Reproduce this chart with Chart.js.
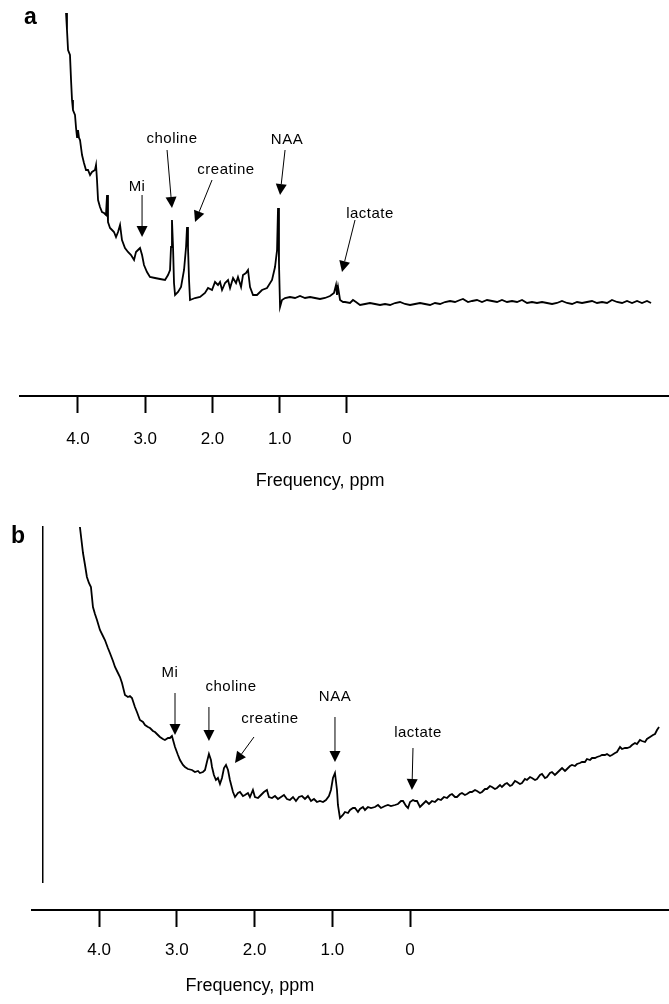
<!DOCTYPE html>
<html>
<head>
<meta charset="utf-8">
<script src="https://cdn.jsdelivr.net/npm/chart.js@4.4.1/dist/chart.umd.min.js"></script>
<style>
  body { margin: 0; background: #fff; }
  .panel { position: absolute; left: 0; width: 669px; }
  .letter { position: absolute; font: bold 23px "Liberation Sans", Arial, sans-serif; line-height: 23px; color: #000; }
</style>
</head>
<body>
<div class="panel" style="top:0;height:496px"><canvas id="chartA"></canvas></div>
<div class="panel" style="top:496px;height:508px"><canvas id="chartB"></canvas></div>
<div class="letter" style="left:24px;top:5px">a</div>
<div class="letter" style="left:11px;top:524px">b</div>
<script>
// axis ticks (ppm) shown under both spectra
const tickValues = [4, 3, 2, 1, 0];
const axisTitle = 'Frequency, ppm';

// spectrum a: chemical shift (ppm) and signal (arbitrary units)
const ppmA = [4.409, 4.398, 4.386, 4.364, 4.352, 4.341, 4.330, 4.307, 4.295, 4.284,
  4.273, 4.261, 4.250, 4.227, 4.205, 4.182, 4.159, 4.136, 4.114, 4.080,
  4.068, 4.057, 4.045, 4.023, 4.000, 3.977, 3.955, 3.943, 3.932, 3.909,
  3.886, 3.864, 3.841, 3.818, 3.795, 3.773, 3.739, 3.705, 3.670, 3.636,
  3.614, 3.591, 3.568, 3.545, 3.523, 3.489, 3.455, 3.398, 3.341, 3.284,
  3.250, 3.227, 3.216, 3.205, 3.193, 3.182, 3.170, 3.136, 3.102, 3.068,
  3.045, 3.034, 3.023, 3.011, 3.000, 2.943, 2.886, 2.830, 2.795, 2.750,
  2.716, 2.682, 2.659, 2.636, 2.602, 2.568, 2.545, 2.511, 2.477, 2.455,
  2.420, 2.398, 2.364, 2.341, 2.318, 2.284, 2.239, 2.182, 2.125, 2.068,
  2.034, 2.011, 2.000, 1.989, 1.977, 1.955, 1.920, 1.864, 1.807, 1.750,
  1.693, 1.636, 1.580, 1.523, 1.466, 1.409, 1.364, 1.341, 1.330, 1.318,
  1.295, 1.261, 1.239, 1.182, 1.148, 1.114, 1.068, 1.011, 0.955, 0.898,
  0.841, 0.784, 0.727, 0.670, 0.614, 0.557, 0.500, 0.443, 0.386, 0.330,
  0.273, 0.216, 0.159, 0.102, 0.045, -0.011, -0.068, -0.102, -0.159, -0.205,
  -0.261, -0.318, -0.375, -0.432, -0.489, -0.545, -0.602, -0.659, -0.716, -0.773,
  -0.830, -0.886, -0.943, -1.000, -1.057, -1.114, -1.170, -1.227, -1.284, -1.341,
  -1.398, -1.455, -1.511, -1.568, -1.625, -1.682, -1.739, -1.795, -1.852, -1.909,
  -1.966, -2.023, -2.080, -2.136, -2.193, -2.239];
const intensityA = [29.2, 27.5, 25.5, 25.0, 22.5, 20.5, 19.5, 19.0, 17.7, 16.8,
  17.5, 16.7, 16.5, 15.0, 14.2, 13.5, 13.5, 13.0, 13.3, 13.5,
  14.0, 12.5, 10.5, 9.8, 9.3, 9.2, 9.0, 11.0, 8.3, 7.7,
  7.5, 7.3, 6.8, 7.3, 8.0, 6.5, 5.7, 5.3, 5.0, 4.5,
  5.3, 5.5, 5.7, 5.0, 4.0, 3.3, 2.8, 2.7, 2.6, 2.5,
  3.0, 3.5, 5.8, 8.5, 5.8, 2.2, 1.0, 1.3, 1.8, 3.5,
  5.8, 7.8, 5.8, 2.5, 0.5, 0.7, 0.8, 1.2, 1.7, 1.5,
  2.3, 2.0, 2.3, 1.5, 2.2, 2.5, 1.7, 2.7, 2.2, 2.8,
  1.8, 3.0, 3.2, 3.5, 1.8, 1.0, 1.0, 1.5, 1.7, 2.5,
  3.8, 5.5, 9.7, 4.2, -0.2, 0.5, 0.7, 0.8, 0.7, 0.9,
  0.7, 0.8, 0.7, 0.6, 0.7, 0.9, 1.2, 2.0, 1.0, 1.8,
  0.5, 0.3, 0.3, 0.2, 0.5, 0.3, 0.0, 0.1, 0.2, 0.1,
  0.0, 0.1, 0.0, 0.2, 0.3, 0.1, 0.0, 0.1, 0.2, 0.1,
  0.0, 0.2, 0.1, 0.3, 0.4, 0.3, 0.5, 0.6, 0.3, 0.4,
  0.5, 0.3, 0.5, 0.4, 0.3, 0.5, 0.3, 0.4, 0.3, 0.5,
  0.2, 0.3, 0.2, 0.3, 0.2, 0.1, 0.2, 0.4, 0.2, 0.1,
  0.3, 0.2, 0.3, 0.4, 0.2, 0.3, 0.2, 0.5, 0.3, 0.2,
  0.4, 0.2, 0.4, 0.2, 0.4, 0.2];

// spectrum b
const ppmB = [4.406, 4.377, 4.358, 4.340, 4.321, 4.302, 4.283, 4.264, 4.245, 4.217,
  4.189, 4.170, 4.142, 4.123, 4.094, 4.075, 4.047, 4.028, 4.009, 3.981,
  3.953, 3.934, 3.915, 3.887, 3.868, 3.840, 3.811, 3.792, 3.764, 3.745,
  3.717, 3.698, 3.670, 3.651, 3.623, 3.604, 3.575, 3.557, 3.538, 3.509,
  3.481, 3.462, 3.434, 3.415, 3.387, 3.349, 3.321, 3.292, 3.274, 3.245,
  3.226, 3.208, 3.189, 3.170, 3.160, 3.142, 3.123, 3.104, 3.085, 3.066,
  3.047, 3.028, 3.009, 2.991, 2.962, 2.943, 2.915, 2.896, 2.868, 2.849,
  2.821, 2.802, 2.774, 2.755, 2.726, 2.698, 2.670, 2.642, 2.623, 2.594,
  2.566, 2.538, 2.509, 2.481, 2.453, 2.425, 2.396, 2.368, 2.340, 2.311,
  2.283, 2.255, 2.226, 2.198, 2.170, 2.142, 2.113, 2.085, 2.057, 2.038,
  2.019, 2.000, 1.981, 1.972, 1.953, 1.925, 1.906, 1.877, 1.858, 1.830,
  1.811, 1.783, 1.764, 1.736, 1.717, 1.689, 1.660, 1.623, 1.594, 1.566,
  1.528, 1.500, 1.472, 1.434, 1.406, 1.377, 1.358, 1.330, 1.311, 1.292,
  1.264, 1.245, 1.226, 1.198, 1.170, 1.142, 1.113, 1.085, 1.057, 1.028,
  1.000, 0.972, 0.943, 0.915, 0.896, 0.868, 0.849, 0.821, 0.802, 0.774,
  0.755, 0.726, 0.708, 0.679, 0.660, 0.632, 0.613, 0.585, 0.566, 0.538,
  0.519, 0.491, 0.472, 0.443, 0.425, 0.396, 0.377, 0.349, 0.330, 0.302,
  0.283, 0.255, 0.236, 0.208, 0.189, 0.160, 0.142, 0.113, 0.094, 0.066,
  0.047, 0.019, 0.000, -0.028, -0.047, -0.075, -0.094, -0.123, -0.142, -0.170,
  -0.189, -0.217, -0.236, -0.264, -0.283, -0.311, -0.330, -0.358, -0.377, -0.406,
  -0.425, -0.453, -0.472, -0.500, -0.519, -0.547, -0.566, -0.594, -0.613, -0.642,
  -0.660, -0.689, -0.708, -0.736, -0.755, -0.783, -0.802, -0.830, -0.849, -0.877,
  -0.896, -0.925, -0.943, -0.972, -1.000, -1.019, -1.038, -1.057];
const intensityB = [27.8, 25.2, 24.0, 22.8, 22.2, 21.8, 19.8, 19.1, 18.5, 17.5,
  16.9, 16.5, 15.7, 15.2, 14.4, 13.8, 13.2, 12.8, 12.2, 11.0,
  10.8, 10.9, 10.7, 9.8, 9.3, 8.5, 8.3, 8.0, 7.8, 7.7,
  7.4, 7.3, 7.0, 6.8, 6.6, 6.5, 6.7, 6.7, 6.9, 5.8,
  5.0, 4.5, 4.0, 3.8, 3.6, 3.5, 3.3, 3.4, 3.2, 3.3,
  3.5, 4.3, 5.1, 4.5, 3.8, 3.0, 2.5, 2.7, 2.1, 2.7,
  3.7, 4.0, 3.5, 2.5, 1.3, 0.8, 1.2, 1.3, 0.9, 1.0,
  1.2, 0.8, 1.5, 0.8, 0.7, 1.0, 1.3, 1.5, 0.8, 0.7,
  0.9, 0.6, 0.8, 1.0, 0.6, 0.5, 0.8, 0.4, 0.8, 0.9,
  0.6, 0.9, 0.4, 0.6, 0.3, 0.4, 0.3, 0.5, 0.9, 1.5,
  2.7, 3.2, 1.5, 0.0, -1.3, -1.0, -0.7, -0.8, -0.5, -0.3,
  -0.3, -0.7, -0.4, -0.2, -0.5, -0.2, -0.3, -0.2, 0.0, -0.3,
  -0.1, 0.0, -0.1, 0.0, 0.1, 0.4, 0.4, -0.1, -0.3, 0.3,
  0.5, 0.4, 0.4, -0.2, 0.1, 0.4, 0.1, 0.4, 0.3, 0.6,
  0.5, 0.8, 0.7, 1.0, 1.1, 0.8, 0.8, 1.1, 1.2, 1.0,
  1.1, 1.3, 1.3, 1.5, 1.4, 1.2, 1.3, 1.6, 1.6, 1.9,
  1.8, 1.6, 1.7, 2.0, 1.8, 2.1, 2.2, 1.9, 2.0, 2.4,
  2.3, 2.1, 2.2, 2.6, 2.5, 2.8, 2.7, 2.5, 2.6, 3.0,
  3.1, 2.7, 2.8, 3.2, 3.3, 3.0, 3.2, 3.5, 3.7, 3.4,
  3.6, 3.9, 4.0, 3.9, 4.1, 4.2, 4.3, 4.3, 4.6, 4.5,
  4.7, 4.7, 4.8, 4.9, 5.0, 5.0, 5.1, 4.9, 5.0, 5.2,
  5.3, 5.8, 5.6, 5.7, 5.7, 5.8, 6.0, 6.2, 6.1, 6.5,
  6.4, 6.3, 6.6, 6.8, 7.0, 7.1, 7.5, 7.8];

Chart.defaults.font.family = '"Liberation Sans", Arial, Helvetica, sans-serif';
Chart.defaults.color = '#000';

// arrows + peak names + axis title, placed in data units
const arrowLabels = {
  id: 'arrowLabels',
  afterDraw(chart, args, opts) {
    const xs = chart.scales.xs, ys = chart.scales.y, xa = chart.scales.x, ctx = chart.ctx;
    ctx.save();
    ctx.fillStyle = '#000';
    ctx.strokeStyle = '#000';
    ctx.textAlign = 'center';
    ctx.textBaseline = 'middle';
    ctx.font = '15px "Liberation Sans", Arial, sans-serif';
    ctx.letterSpacing = '0.5px';
    opts.marks.forEach(m => {
      ctx.fillText(m.text, xs.getPixelForValue(m.label[0]), ys.getPixelForValue(m.label[1]));
      const fx = xs.getPixelForValue(m.from[0]), fy = ys.getPixelForValue(m.from[1]);
      const tx = xs.getPixelForValue(m.tip[0]), ty = ys.getPixelForValue(m.tip[1]);
      const ang = Math.atan2(ty - fy, tx - fx);
      const len = 11, half = 5.5;
      const bx = tx - len * Math.cos(ang), by = ty - len * Math.sin(ang);
      ctx.lineWidth = 1;
      ctx.beginPath();
      ctx.moveTo(fx, fy);
      ctx.lineTo(bx, by);
      ctx.stroke();
      ctx.beginPath();
      ctx.moveTo(tx, ty);
      ctx.lineTo(bx + half * Math.sin(ang), by - half * Math.cos(ang));
      ctx.lineTo(bx - half * Math.sin(ang), by + half * Math.cos(ang));
      ctx.closePath();
      ctx.fill();
    });
    ctx.letterSpacing = '0px';
    ctx.font = '18px "Liberation Sans", Arial, sans-serif';
    ctx.fillText(axisTitle, xa.getPixelForValue(opts.titleAt), xa.top + opts.titleOffset);
    ctx.restore();
  }
};

function makeSpectrum(id, ppm, intensity, s) {
  const points = ppm.map((x, i) => ({ x: x, y: intensity[i] }));
  const yScale = {
    min: s.yMin, max: s.yMax,
    display: s.yLine != null,
    grid: { display: false },
    ticks: { display: false },
    border: { display: true, color: '#000', width: 1.5 }
  };
  if (s.yLine != null) yScale.position = { x: s.yLine };
  return new Chart(document.getElementById(id), {
    type: 'line',
    data: {
      datasets: [{
        data: points,
        xAxisID: 'xs',
        yAxisID: 'y',
        borderColor: '#000',
        borderWidth: 1.8,
        pointRadius: 0,
        tension: 0,
        fill: false
      }]
    },
    options: {
      responsive: true,
      maintainAspectRatio: false,
      animation: false,
      events: [],
      layout: { padding: { left: s.left, right: 0, top: s.top, bottom: 0 } },
      plugins: {
        legend: { display: false },
        tooltip: { enabled: false },
        arrowLabels: { marks: s.marks, titleAt: s.titleAt, titleOffset: s.titleOffset }
      },
      scales: {
        xs: {
          type: 'linear', position: 'bottom', weight: 0, reverse: true,
          min: s.xsMin, max: s.xsMax,
          grid: { display: false },
          border: { display: false },
          ticks: { display: false },
          afterFit: sc => { sc.height = s.gap; }
        },
        x: {
          type: 'linear', position: 'bottom', weight: 1, reverse: true,
          min: s.xMin, max: s.xMax,
          afterBuildTicks: sc => { sc.ticks = tickValues.map(v => ({ value: v })); },
          afterFit: sc => { sc.height = s.axisHeight; },
          grid: { display: true, drawOnChartArea: false, drawTicks: true, tickLength: 17, tickWidth: 2, tickColor: '#000', color: '#000' },
          border: { display: true, color: '#000', width: 2 },
          ticks: {
            padding: s.tickPad,
            maxRotation: 0,
            autoSkip: false,
            color: '#000',
            font: { size: 17 },
            callback: v => v === 0 ? '0' : v.toFixed(1)
          }
        },
        y: yScale
      }
    },
    plugins: [arrowLabels]
  });
}

makeSpectrum('chartA', ppmA, intensityA, {
  left: 20, top: 10, gap: 0, axisHeight: 100, tickPad: 16,
  xsMin: -2.443, xsMax: 4.932, xMin: -4.788, xMax: 4.862,
  yMin: -9.1, yMax: 29.5, yLine: null,
  titleAt: 0.40, titleOffset: 85,
  marks: [
    { text: 'Mi', label: [3.602, 11.8], from: [3.545, 11.0], tip: [3.545, 6.8] },
    { text: 'choline', label: [3.205, 16.6], from: [3.261, 15.5], tip: [3.205, 9.7] },
    { text: 'creatine', label: [2.591, 13.5], from: [2.750, 12.5], tip: [2.943, 8.3] },
    { text: 'NAA', label: [1.898, 16.5], from: [1.920, 15.5], tip: [1.977, 11.0] },
    { text: 'lactate', label: [0.955, 9.1], from: [1.125, 8.5], tip: [1.273, 3.3] }
  ]
});

makeSpectrum('chartB', ppmB, intensityB, {
  left: 32, top: 31, gap: 28, axisHeight: 94, tickPad: 13,
  xsMin: -1.151, xsMax: 4.858, xMin: -3.331, xMax: 4.862,
  yMin: -7.7, yMax: 27.8, yLine: 4.72,
  titleAt: 2.06, titleOffset: 76,
  marks: [
    { text: 'Mi', label: [3.557, 13.2], from: [3.509, 11.2], tip: [3.509, 7.0] },
    { text: 'choline', label: [2.981, 11.8], from: [3.189, 9.8], tip: [3.189, 6.4] },
    { text: 'creatine', label: [2.613, 8.6], from: [2.764, 6.8], tip: [2.943, 4.2] },
    { text: 'NAA', label: [2.000, 10.8], from: [2.000, 8.8], tip: [2.000, 4.3] },
    { text: 'lactate', label: [1.217, 7.2], from: [1.264, 5.7], tip: [1.274, 1.5] }
  ]
});
</script>
</body>
</html>
